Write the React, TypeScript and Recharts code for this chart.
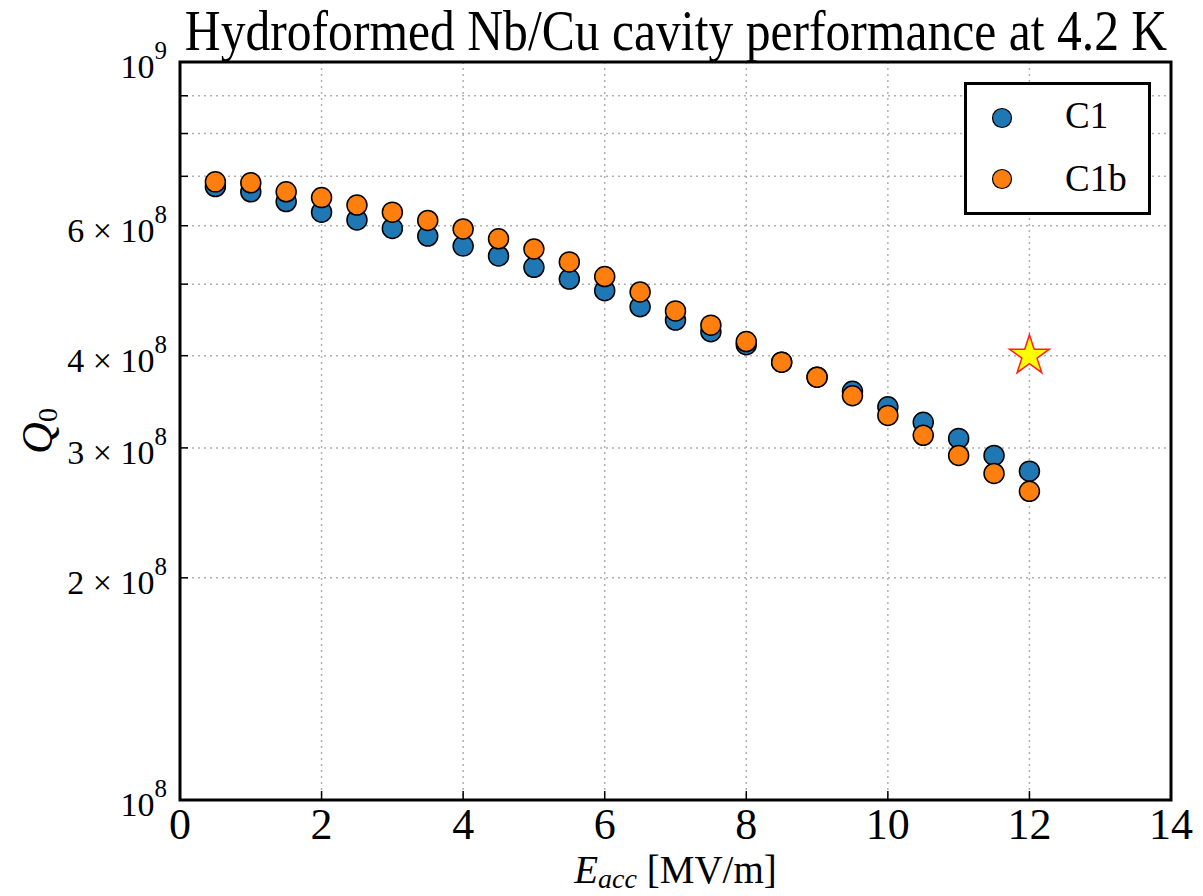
import React from "react";
import {
  ScatterChart,
  Scatter,
  XAxis,
  YAxis,
  CartesianGrid,
  Legend,
  ReferenceArea,
} from "recharts";

// accelerating field [MV/m]
const eacc = [0.5, 1, 1.5, 2, 2.5, 3, 3.5, 4, 4.5, 5, 5.5, 6, 6.5, 7, 7.5, 8, 8.5, 9, 9.5, 10, 10.5, 11, 11.5, 12];
// Q0 for cavity C1
const q0C1 = [
  6.78e8, 6.67e8, 6.47e8, 6.26e8, 6.11e8, 5.95e8, 5.81e8, 5.63e8, 5.46e8, 5.27e8, 5.08e8, 4.9e8,
  4.66e8, 4.47e8, 4.31e8, 4.14e8, 3.92e8, 3.74e8, 3.58e8, 3.41e8, 3.25e8, 3.09e8, 2.93e8, 2.79e8,
];
// Q0 for cavity C1b
const q0C1b = [
  6.88e8, 6.86e8, 6.67e8, 6.55e8, 6.4e8, 6.26e8, 6.1e8, 5.94e8, 5.76e8, 5.58e8, 5.36e8, 5.12e8,
  4.88e8, 4.6e8, 4.4e8, 4.18e8, 3.92e8, 3.74e8, 3.53e8, 3.32e8, 3.12e8, 2.93e8, 2.77e8, 2.62e8,
];
// target point
const starE = [12];
const starQ = [4.0e8];

const xTicks = [0, 2, 4, 6, 8, 10, 12, 14];
const yTicks = [1e8, 2e8, 3e8, 4e8, 5e8, 6e8, 7e8, 8e8, 9e8, 1e9];
const yLabelled = [1, 2, 3, 4, 6, 10];

const FONT = "'Liberation Serif', 'Times New Roman', serif";
const BLUE = "#1f77b4";
const ORANGE = "#ff7f0e";

const c1Data = eacc.map((x, i) => ({ x, y: q0C1[i] }));
const c1bData = eacc.map((x, i) => ({ x, y: q0C1b[i] }));
const starData = starE.map((x, i) => ({ x, y: starQ[i] }));

const Dot = (color: string) => (props: any) => {
  const { cx, cy } = props;
  if (cx == null || cy == null) return null;
  return <circle cx={cx} cy={cy} r={10} fill={color} stroke="#000" strokeWidth={1.5} />;
};

const Star = (props: any) => {
  const { cx, cy } = props;
  if (cx == null || cy == null) return null;
  const R = 21;
  const r = R * 0.382;
  const pts: string[] = [];
  for (let k = 0; k < 10; k++) {
    const rad = k % 2 === 0 ? R : r;
    const a = -Math.PI / 2 + (k * Math.PI) / 5;
    pts.push(`${cx + rad * Math.cos(a)},${cy + rad * Math.sin(a)}`);
  }
  return <polygon points={pts.join(" ")} fill="#ffff00" stroke="#ff2020" strokeWidth={1.5} />;
};

const YTick = (props: any) => {
  const { x, y, payload } = props;
  const m = Math.round(payload.value / 1e8);
  let label = null;
  if (yLabelled.includes(m)) {
    const mant = m === 1 || m === 10 ? "10" : `${m} × 10`;
    const exp = m === 10 ? "9" : "8";
    label = (
      <text x={x - 13} y={y + 16} textAnchor="end" fontSize={34} fontFamily={FONT} fill="#000">
        {mant}
        <tspan fontSize={25} dy={-19}>
          {exp}
        </tspan>
      </text>
    );
  }
  return (
    <g>
      <line x1={x} y1={y} x2={x + 8} y2={y} stroke="#000" strokeWidth={1.5} />
      {label}
    </g>
  );
};

const XTick = (props: any) => {
  const { x, y, payload } = props;
  return (
    <g>
      <line x1={x} y1={y} x2={x} y2={y - 9} stroke="#000" strokeWidth={1.5} />
      <text x={x} y={y + 39} textAnchor="middle" fontSize={44} fontFamily={FONT} fill="#000">
        {payload.value}
      </text>
    </g>
  );
};

const XLabel = (props: any) => {
  const { viewBox } = props;
  const cx = viewBox.x + viewBox.width / 2;
  return (
    <text x={cx} y={viewBox.y + 83} textAnchor="middle" fontSize={39} fontFamily={FONT} fill="#000">
      <tspan fontStyle="italic">E</tspan>
      <tspan fontStyle="italic" fontSize={28} dy={5}>
        acc
      </tspan>
      <tspan dy={-5}> [MV/m]</tspan>
    </text>
  );
};

const YLabel = (props: any) => {
  const { viewBox } = props;
  const cx = viewBox.x + 22;
  const cy = viewBox.y + viewBox.height / 2;
  return (
    <text
      x={cx}
      y={cy}
      transform={`rotate(-90, ${cx}, ${cy})`}
      textAnchor="middle"
      fontSize={44}
      fontFamily={FONT}
      fill="#000"
    >
      <tspan fontStyle="italic">Q</tspan>
      <tspan fontSize={28} dy={5}>
        0
      </tspan>
    </text>
  );
};

const LegendBox = () => (
  <svg width={187} height={133} style={{ display: "block" }}>
    <rect x={1.5} y={1.5} width={184} height={130} fill="#fff" stroke="#000" strokeWidth={3} />
    <circle cx={38} cy={36} r={9.5} fill={BLUE} stroke="#000" strokeWidth={1.2} />
    <circle cx={38} cy={97} r={9.5} fill={ORANGE} stroke="#000" strokeWidth={1.2} />
    <text x={101} y={46} fontSize={37} fontFamily={FONT} fill="#000">
      C1
    </text>
    <text x={101} y={109} fontSize={37} fontFamily={FONT} fill="#000">
      C1b
    </text>
  </svg>
);

export default function App() {
  return (
    <div style={{ position: "relative", width: 1203, height: 896, background: "#fff", overflow: "hidden" }}>
      <style>{"body{margin:0}"}</style>
      <div
        style={{
          position: "absolute",
          left: 675.5,
          top: 3,
          fontFamily: FONT,
          fontSize: 56,
          lineHeight: "56px",
          color: "#000",
          whiteSpace: "nowrap",
          transform: "translateX(-50%) scaleX(0.886)",
          transformOrigin: "center",
          zIndex: 2,
        }}
      >
        Hydroformed Nb/Cu cavity performance at 4.2 K
      </div>
      <ScatterChart width={1203} height={896} margin={{ top: 62, right: 32, left: 30, bottom: 46 }}>
        <CartesianGrid stroke="#b0b0b0" strokeDasharray="2 4" strokeWidth={1.5} />
        <XAxis
          type="number"
          dataKey="x"
          domain={[0, 14]}
          ticks={xTicks}
          height={50}
          tickSize={0}
          tickMargin={0}
          axisLine={false}
          tickLine={false}
          tick={<XTick />}
          label={<XLabel />}
          allowDataOverflow
        />
        <YAxis
          type="number"
          dataKey="y"
          scale="log"
          domain={[1e8, 1e9]}
          ticks={yTicks}
          width={150}
          tickSize={0}
          tickMargin={0}
          axisLine={false}
          tickLine={false}
          tick={<YTick />}
          label={<YLabel />}
          allowDataOverflow
        />
        <ReferenceArea
          x1={0}
          x2={14}
          y1={1e8}
          y2={1e9}
          fill="none"
          stroke="#000"
          strokeWidth={3}
          ifOverflow="visible"
        />
        <Scatter name="C1" data={c1Data} shape={Dot(BLUE)} isAnimationActive={false} />
        <Scatter name="C1b" data={c1bData} shape={Dot(ORANGE)} isAnimationActive={false} />
        <Scatter name="target" data={starData} shape={Star} isAnimationActive={false} legendType="none" />
        <Legend
          layout="vertical"
          align="center"
          verticalAlign="middle"
          content={<LegendBox />}
          wrapperStyle={{ left: 964, top: 82, width: 187, height: 133 }}
        />
      </ScatterChart>
    </div>
  );
}
